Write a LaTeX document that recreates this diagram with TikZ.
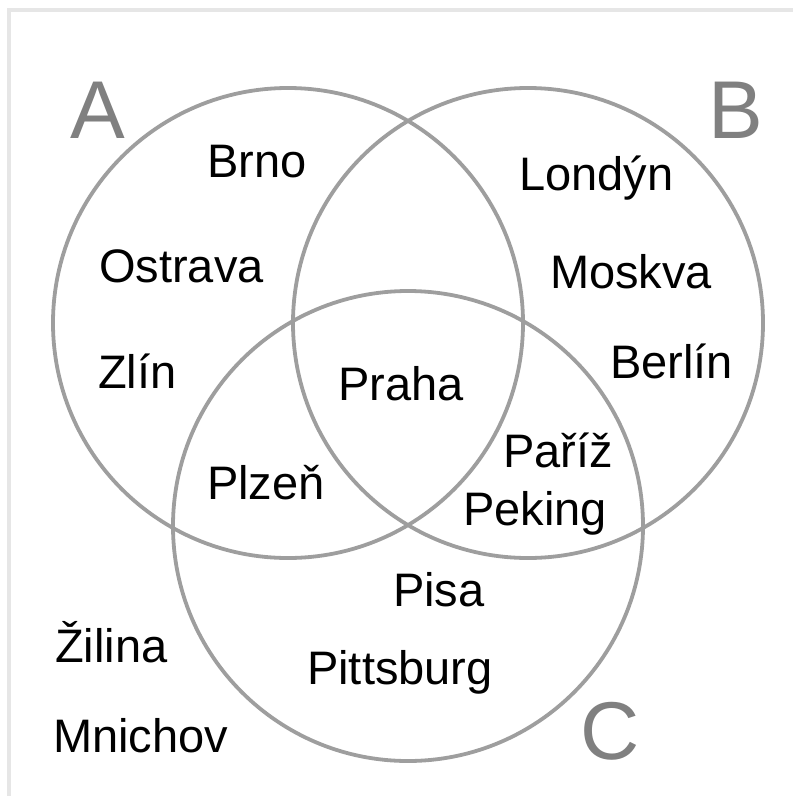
\documentclass[tikz,border=0pt]{standalone}
\usepackage{fontspec}
\setmainfont{Liberation Sans}
\definecolor{ringgray}{HTML}{9E9E9E}
\definecolor{setlabel}{HTML}{808080}
\definecolor{framegray}{HTML}{E6E6E6}
\begin{document}
\begin{tikzpicture}[x=1pt,y=-1pt,
  ring/.style={draw=ringgray,line width=3.8pt},
  city/.style={anchor=base west,inner sep=0pt,font=\fontsize{47}{52}\selectfont},
  setname/.style={anchor=base west,inner sep=0pt,text=setlabel,font=\fontsize{82}{90}\selectfont}]
\useasboundingbox (0,0) rectangle (793,796);
% partial frame along the top and left
\draw[framegray,line width=4pt] (9,796) -- (9,10) -- (793,10);
% the three sets
\draw[ring] (288,323) circle (235);
\draw[ring] (528,323) circle (235);
\draw[ring] (408,526) circle (235);
% set names
\node[setname] (lA) at (70,138) {A};
\node[setname] (lB) at (708,138) {B};
\node[setname] (lC) at (580,759) {C};
% members
\node[city] (brno) at (207,177) {Brno};
\node[city] (ostrava) at (99,282) {Ostrava};
\node[city] (zlin) at (98,388) {Zlín};
\node[city] (praha) at (338,400) {Praha};
\node[city] (plzen) at (207,499) {Plzeň};
\node[city] (londyn) at (519,190) {Londýn};
\node[city] (moskva) at (550,288) {Moskva};
\node[city] (berlin) at (610,378) {Berlín};
\node[city] (pariz) at (503,467) {Paříž};
\node[city] (peking) at (463,525) {Peking};
\node[city] (pisa) at (393,606) {Pisa};
\node[city] (pittsburg) at (307,684) {Pittsburg};
\node[city] (zilina) at (55,662) {Žilina};
\node[city] (mnichov) at (53,752) {Mnichov};
\end{tikzpicture}
\end{document}
